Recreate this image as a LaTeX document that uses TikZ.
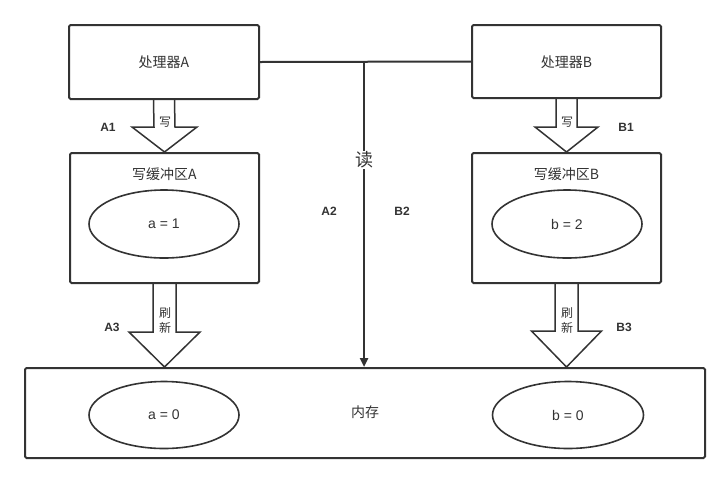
\documentclass[tikz,border=0pt]{standalone}
\usepackage{fontspec}
\setmainfont{Liberation Sans}
\newfontfamily\cjk{Noto Sans CJK SC}
\usetikzlibrary{arrows.meta,calc,backgrounds,shapes.geometric}
\definecolor{ln}{HTML}{333333}
\definecolor{tx}{HTML}{333333}
\tikzset{
  box/.style={draw=ln,line width=2pt,fill=white,rounded corners=1.5pt,inner sep=0pt},
  oval/.style={draw=ln,line width=1.6pt,ellipse,inner sep=0pt,text=tx,font=\fontsize{14}{16}\selectfont},
  ctext/.style={text=tx,font=\cjk\fontsize{14}{16}\selectfont,inner sep=0pt},
  small/.style={text=tx,font=\cjk\fontsize{12}{15}\selectfont,inner sep=0pt,align=center},
  lbl/.style={text=ln,font=\bfseries\fontsize{12}{14}\selectfont,inner sep=0pt},
  blk/.style={draw=ln,line width=1.5pt,fill=white,line join=miter},
}
\newcommand\blkarrow[5]{%
  \draw[blk] ($(#1)+(-#3,0)$) -- ($(#2)+(-#3,-#5)$) -- ($(#2)+(-#4,-#5)$) -- (#2)
    -- ($(#2)+(#4,-#5)$) -- ($(#2)+(#3,-#5)$) -- ($(#1)+(#3,0)$);}
\begin{document}
\begin{tikzpicture}[x=1pt,y=-1pt]
\useasboundingbox (0,0) rectangle (727,483);

% processors
\node[box,minimum width=190pt,minimum height=74pt] (pA) at (164,62) {};
\node[ctext] (tA) at (164,62) {处理器A};
\node[box,minimum width=189pt,minimum height=73pt] (pB) at (566.5,61.5) {};
\node[ctext] (tB) at (566.5,62) {处理器B};

% write buffers
\node[box,minimum width=189pt,minimum height=130pt] (bufA) at (164.5,218) {};
\node[ctext] (tbA) at (164.5,174) {写缓冲区A};
\node[oval,minimum width=150pt,minimum height=68pt] (eA) at (164,224) {a = 1};
\node[box,minimum width=189pt,minimum height=130pt] (bufB) at (566.5,218) {};
\node[ctext] (tbB) at (566.5,174) {写缓冲区B};
\node[oval,minimum width=150pt,minimum height=68pt] (eB) at (567,224) {b = 2};

% memory
\node[box,minimum width=680pt,minimum height=90pt] (mem) at (365,413) {};
\node[ctext] (tm) at (365,412) {内存};
\node[oval,minimum width=150pt,minimum height=67pt] (mA) at (164,415) {a = 0};
\node[oval,minimum width=151pt,minimum height=67pt] (mB) at (568,415) {b = 0};

% block arrows (behind boxes)
\begin{scope}[on background layer]
\fill[white] (0,0) rectangle (727,483);
\coordinate (mAt) at (bufA.south |- mem.north);
\coordinate (mBt) at (bufB.south |- mem.north);
\blkarrow{pA.south}{bufA.north}{10.5}{32.5}{25}
\blkarrow{pB.south}{bufB.north}{10.5}{31.5}{25}
\blkarrow{bufA.south}{mAt}{11.5}{35.5}{35}
\blkarrow{bufB.south}{mBt}{11.5}{35}{36}
\end{scope}
\node[small] (wA) at (165,122) {写};
\node[small] (wB) at (567,122) {写};
\node[small] (rA) at (165,321) {刷\\新};
\node[small] (rB) at (567,321) {刷\\新};

% read line
\coordinate (j) at (364,62);
\draw[ln,line width=2pt] (pA.east) -- (pB.west);
\draw[ln,line width=2.6pt,-{Triangle[width=8pt,length=9pt]}] (j) -- (j |- mem.north);
\node[fill=white,text=tx,font=\cjk\fontsize{18}{20}\selectfont,inner sep=1pt] (rd) at (364,160) {读};

% step labels
\node[lbl] (A1) at (108,127) {A1};
\node[lbl] (A2) at (329,211) {A2};
\node[lbl] (A3) at (112,327) {A3};
\node[lbl] (B1) at (626,127) {B1};
\node[lbl] (B2) at (402,211) {B2};
\node[lbl] (B3) at (624,327) {B3};
\end{tikzpicture}
\end{document}
